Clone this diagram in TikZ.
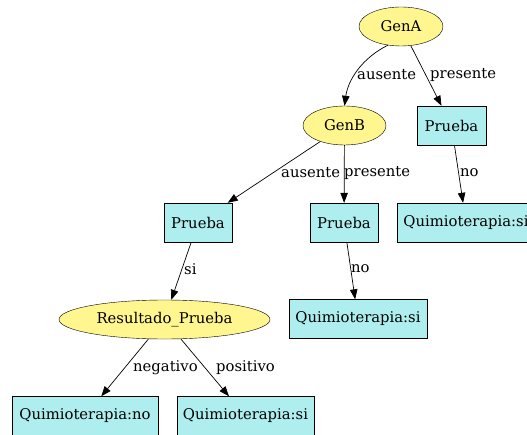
\documentclass[tikz,border=0pt]{standalone}
\usepackage{fontspec}
\setmainfont{DejaVu Serif}
\usetikzlibrary{shapes.geometric,arrows.meta}
\definecolor{nodeyellow}{RGB}{255,246,143}
\definecolor{nodecyan}{RGB}{175,238,238}
\begin{document}
\begin{tikzpicture}[x=1pt,y=-1pt,
  font=\fontsize{14.8}{17}\selectfont,
  varnode/.style={ellipse,draw,fill=nodeyellow,inner sep=0pt,minimum height=39pt},
  boxnode/.style={rectangle,draw,fill=nodecyan,inner sep=0pt,minimum height=39pt},
  edge/.style={draw,line width=0.7pt,-{Triangle[length=10pt,width=7.5pt]}},
  elabel/.style={inner sep=0pt,anchor=west}]
\useasboundingbox (0,0) rectangle (527,435);
\clip (0,0) rectangle (527,435);
% decision nodes
\node[varnode,minimum width=84pt] (genA) at (401,26.5) {GenA};
\node[varnode,minimum width=83pt] (genB) at (344.5,125.5) {GenB};
\node[varnode,minimum width=211pt] (res) at (164.5,319.5) {Resultado\_Prueba};
% test and outcome boxes
\node[boxnode,minimum width=69pt] (pA) at (451.5,125.5) {Prueba};
\node[boxnode,minimum width=68pt] (pB) at (344,222.5) {Prueba};
\node[boxnode,minimum width=68pt] (pC) at (198,222.5) {Prueba};
\node[boxnode,minimum width=138pt] (qA) at (466,222.5) {Quimioterapia:si};
\node[boxnode,minimum width=138pt] (qB) at (358,319) {Quimioterapia:si};
\node[boxnode,minimum width=146pt] (qC) at (85,416) {Quimioterapia:no};
\node[boxnode,minimum width=137pt] (qD) at (245.5,416) {Quimioterapia:si};
% connectors
\draw[edge] (genA.235) .. controls (362,58) and (348,80) .. (genB.north);
\draw[edge] (genA) -- (pA);
\draw[edge] (genB) -- (pC);
\draw[edge] (genB) -- (pB);
\draw[edge] (pA) -- (qA);
\draw[edge] (pC) -- (res);
\draw[edge] (pB) -- (qB);
\draw[edge] (res) -- (qC);
\draw[edge] (res) -- (qD);
% edge labels
\node[elabel] (l1) at (357,75) {ausente};
\node[elabel] (l2) at (430,75) {presente};
\node[elabel] (l3) at (281,173) {ausente};
\node[elabel] (l4) at (344,173) {presente};
\node[elabel] (l5) at (460,173) {no};
\node[elabel] (l6) at (184,269) {si};
\node[elabel] (l7) at (351,269) {no};
\node[elabel] (l8) at (133,368) {negativo};
\node[elabel] (l9) at (216,368) {positivo};
\end{tikzpicture}
\end{document}
